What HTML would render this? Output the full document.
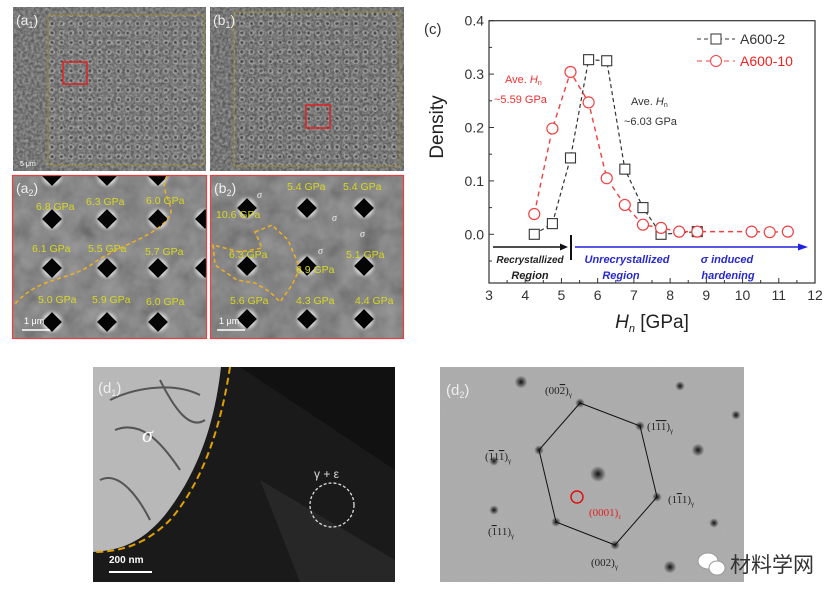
<!DOCTYPE html>
<html><head><meta charset="utf-8"><style>
html,body{margin:0;padding:0;background:#fff;}
body{width:831px;height:598px;overflow:hidden;position:relative;font-family:"Liberation Sans",sans-serif;}
svg{position:absolute;left:0;top:0;}
</style></head><body>
<svg width="831" height="598" viewBox="0 0 831 598">
<defs>
<filter id="nz" x="0" y="0" width="100%" height="100%"><feTurbulence type="fractalNoise" baseFrequency="0.35" numOctaves="2" seed="3"/><feColorMatrix type="matrix" values="0 0 0 0 0.45 0 0 0 0 0.45 0 0 0 0 0.45 0 0 0 1.2 -0.3"/></filter>
<filter id="nz2" x="0" y="0" width="100%" height="100%"><feTurbulence type="fractalNoise" baseFrequency="0.05" numOctaves="3" seed="7"/><feColorMatrix type="matrix" values="0.3 0.3 0.3 0 -0.1 0.3 0.3 0.3 0 -0.1 0.3 0.3 0.3 0 -0.1 0 0 0 0 0.5"/></filter>
<pattern id="dots" width="9.5" height="9.5" patternUnits="userSpaceOnUse"><circle cx="4.5" cy="4.5" r="2.4" fill="none" stroke="#ccc" stroke-width="0.8"/><circle cx="4.5" cy="4.5" r="1" fill="#222"/></pattern>
<radialGradient id="halo"><stop offset="0.4" stop-color="#fff"/><stop offset="0.65" stop-color="#ccc" stop-opacity="0.7"/><stop offset="1" stop-color="#777" stop-opacity="0"/></radialGradient>
<radialGradient id="spot"><stop offset="0" stop-color="#111"/><stop offset="1" stop-color="#111" stop-opacity="0"/></radialGradient>
<clipPath id="ca2"><rect x="12" y="175" width="195" height="164"/></clipPath>
<clipPath id="cb2"><rect x="210" y="175" width="194" height="164"/></clipPath>
</defs>

<g>
<rect x="13" y="7" width="193" height="164" fill="#5e5e5e"/>
<rect x="13" y="7" width="193" height="164" filter="url(#nz)"/>
<rect x="48" y="15" width="156" height="150" fill="url(#dots)" opacity="0.55"/>
<rect x="48" y="15" width="156" height="150" fill="none" stroke="#a08a30" stroke-width="0.8"/>
<rect x="63" y="62" width="24" height="22" fill="none" stroke="#e02020" stroke-width="1.5"/>
<text x="16" y="25" font-size="14" fill="#eee">(a<tspan font-size="9" dy="3">1</tspan><tspan dy="-3">)</tspan></text>
<text x="20" y="166" font-size="7" fill="#fff">5 μm</text>
</g>
<g>
<rect x="210" y="7" width="194" height="164" fill="#5a5a5a"/>
<rect x="210" y="7" width="194" height="164" filter="url(#nz)"/>
<rect x="234" y="12" width="166" height="154" fill="url(#dots)" opacity="0.55"/>
<rect x="234" y="12" width="166" height="154" fill="none" stroke="#a08a30" stroke-width="0.8"/>
<rect x="306" y="105" width="24" height="23" fill="none" stroke="#e02020" stroke-width="1.5"/>
<text x="213" y="25" font-size="14" fill="#eee">(b<tspan font-size="9" dy="3">1</tspan><tspan dy="-3">)</tspan></text>
</g>
<g clip-path="url(#ca2)">
<rect x="12" y="175" width="195" height="164" fill="#707070"/>
<rect x="12" y="175" width="195" height="164" filter="url(#nz2)"/>
<g id="a2ind"></g>
<path d="M167,176 C158,190 175,205 170,215 C160,235 120,245 95,262 C70,282 40,275 14,305" fill="none" stroke="#f0b020" stroke-width="1.5" stroke-dasharray="4,3"/>
<g font-size="10.5" fill="#d8d820">
<text x="36" y="210">6.8 GPa</text><text x="86" y="205">6.3 GPa</text><text x="146" y="204">6.0 GPa</text>
<text x="32" y="252">6.1 GPa</text><text x="88" y="252">5.5 GPa</text><text x="145" y="255">5.7 GPa</text>
<text x="38" y="303">5.0 GPa</text><text x="92" y="303">5.9 GPa</text><text x="146" y="305">6.0 GPa</text>
</g>
<text x="16" y="193" font-size="14" fill="#eee">(a<tspan font-size="9" dy="3">2</tspan><tspan dy="-3">)</tspan></text>
<text x="24" y="324" font-size="9" fill="#fff">1 μm</text><line x1="22" y1="330" x2="50" y2="330" stroke="#fff" stroke-width="1.5"/>
</g>
<rect x="12.5" y="175.5" width="194" height="163" fill="none" stroke="#e84040" stroke-width="1.2"/>
<g clip-path="url(#cb2)">
<rect x="210" y="175" width="194" height="164" fill="#686868"/>
<rect x="210" y="175" width="194" height="164" filter="url(#nz2)"/>
<g id="b2ind"></g>
<path d="M255,232 L272,225 L288,240 L300,268 L292,285 L280,302 L270,292 L255,283 L237,280 L215,265 L213,245 L240,252 L262,248 Z" fill="none" stroke="#f0b020" stroke-width="1.5" stroke-dasharray="4,3"/>
<g font-size="10.5" fill="#d8d820">
<text x="287" y="190">5.4 GPa</text><text x="343" y="190">5.4 GPa</text><text x="216" y="218">10.6 GPa</text>
<text x="229" y="258">6.3 GPa</text><text x="296" y="273">6.9 GPa</text><text x="346" y="258">5.1 GPa</text>
<text x="230" y="304">5.6 GPa</text><text x="296" y="304">4.3 GPa</text><text x="355" y="304">4.4 GPa</text>
</g>
<g font-size="10" fill="#eee" font-style="italic" font-family="Liberation Serif,serif"><text x="257" y="198">σ</text><text x="332" y="221">σ</text><text x="360" y="237">σ</text><text x="318" y="254">σ</text></g>
<text x="214" y="193" font-size="14" fill="#eee">(b<tspan font-size="9" dy="3">2</tspan><tspan dy="-3">)</tspan></text>
<text x="219" y="324" font-size="9" fill="#fff">1 μm</text><line x1="217" y1="330" x2="245" y2="330" stroke="#fff" stroke-width="1.5"/>
</g>
<rect x="210.5" y="175.5" width="193" height="163" fill="none" stroke="#e84040" stroke-width="1.2"/>

<g id="chart"></g>

<g>
<rect x="93" y="367" width="302" height="215" fill="#1a1a1a"/>
<path d="M240,367 L395,367 L395,470 Z" fill="#111"/>
<path d="M260,480 L395,560 L395,582 L300,582 Z" fill="#2a2a2a" opacity="0.8"/>
<path d="M93,367 L221,367 C215,420 200,470 165,515 C140,545 118,550 93,552 Z" fill="#b8b8b8"/>
<path d="M110,400 C130,390 170,380 200,395 M115,430 C140,420 160,440 180,470 M100,480 C120,470 140,500 150,520 M160,380 C175,410 190,430 205,420" stroke="#555" stroke-width="2" fill="none"/>
<path d="M230,367 C222,420 205,480 170,520 C145,545 120,552 93,552" fill="none" stroke="#e0a000" stroke-width="2" stroke-dasharray="7,4"/>
<circle cx="332" cy="505" r="22" fill="none" stroke="#ddd" stroke-width="1.3" stroke-dasharray="3,2"/>
<text x="314" y="478" font-size="12" fill="#ddd">γ + ε</text>
<text x="142" y="442" font-size="22" font-style="italic" fill="#fff" font-family="Liberation Serif,serif">σ</text>
<text x="98" y="393" font-size="15" fill="#eee">(d<tspan font-size="9" dy="3">1</tspan><tspan dy="-3">)</tspan></text>
<text x="109" y="563" font-size="10" font-weight="bold" fill="#fff">200 nm</text>
<line x1="109" y1="572" x2="152" y2="572" stroke="#fff" stroke-width="2"/>
</g>
<g>
<rect x="440" y="367" width="304" height="215" fill="#acacac"/>
<rect x="440" y="367" width="304" height="215" filter="url(#nz)" opacity="0.3"/>
<g id="spots"></g>
<polygon points="580,403 640,426 657,497 615,545 556,522 539,450" fill="none" stroke="#111" stroke-width="1"/>
<circle cx="577" cy="497" r="6" fill="none" stroke="#e01010" stroke-width="1.5"/>
<g font-family="Liberation Serif,serif" font-size="11" fill="#222">
<text x="545" y="394">(00<tspan text-decoration="overline">2</tspan>)<tspan font-size="7" dy="3">γ</tspan></text>
<text x="647" y="430">(1<tspan text-decoration="overline">1</tspan><tspan text-decoration="overline">1</tspan>)<tspan font-size="7" dy="3">γ</tspan></text>
<text x="485" y="460">(<tspan text-decoration="overline">1</tspan>1<tspan text-decoration="overline">1</tspan>)<tspan font-size="7" dy="3">γ</tspan></text>
<text x="668" y="503">(1<tspan text-decoration="overline">1</tspan>1)<tspan font-size="7" dy="3">γ</tspan></text>
<text x="488" y="535">(<tspan text-decoration="overline">1</tspan>11)<tspan font-size="7" dy="3">γ</tspan></text>
<text x="591" y="566">(002)<tspan font-size="7" dy="3">γ</tspan></text>
<text x="589" y="516" fill="#e02020">(0001)<tspan font-size="7" dy="3">ε</tspan></text>
</g>
<text x="446" y="395" font-size="15" fill="#eee">(d<tspan font-size="9" dy="3">2</tspan><tspan dy="-3">)</tspan></text>
</g>
<g>
<ellipse cx="708" cy="561" rx="10" ry="8" fill="#fff" stroke="#999"/><ellipse cx="717" cy="568" rx="8" ry="7" fill="#fff" stroke="#999"/>
<text x="730" y="572" font-size="21" fill="#333" font-family="'Liberation Sans','Noto Sans CJK SC',sans-serif">材料学网</text>
</g>
</svg>
<script>
const NS='http://www.w3.org/2000/svg';
function mk(p,t,a){const e=document.createElementNS(NS,t);for(const k in a)e.setAttribute(k,a[k]);p.appendChild(e);return e;}
const a2g=document.getElementById('a2ind');
[[52,176],[107,176],[158,176],[52,219],[107,219],[158,219],[52,268],[107,268],[158,268],[52,322],[107,322],[158,322],[205,219],[205,268]].forEach(p=>{
 mk(a2g,'circle',{cx:p[0],cy:p[1],r:14,fill:'url(#halo)'});
 mk(a2g,'rect',{x:p[0]-7,y:p[1]-7,width:14,height:14,fill:'#050505',transform:`rotate(45 ${p[0]} ${p[1]})`});
});
const b2g=document.getElementById('b2ind');
[[247,208],[307,208],[364,208],[247,266],[307,266],[364,266],[247,319],[307,319],[364,319]].forEach(p=>{
 mk(b2g,'circle',{cx:p[0],cy:p[1],r:14,fill:'url(#halo)'});
 mk(b2g,'rect',{x:p[0]-7,y:p[1]-7,width:14,height:14,fill:'#050505',transform:`rotate(45 ${p[0]} ${p[1]})`});
});
const sg=document.getElementById('spots');
[[580,403,3],[640,426,3],[657,497,3],[615,545,3],[556,522,3],[539,450,3],[598,474,5],[521,382,4],[680,386,3],[494,461,3],[698,450,4],[494,510,3],[714,523,3],[670,567,4],[736,415,3]].forEach(s=>{
 mk(sg,'circle',{cx:s[0],cy:s[1],r:s[2]*1.6,fill:'url(#spot)'});
});

const xTicks=[3,4,5,6,7,8,9,10,11,12];
const yTicks=[0.0,0.1,0.2,0.3,0.4];
const hA2=[4.25,4.75,5.25,5.75,6.25,6.75,7.25,7.75,8.75];
const dA2=[0.0,0.02,0.143,0.327,0.325,0.122,0.05,0.0,0.005];
const hA10=[4.25,4.75,5.25,5.75,6.25,6.75,7.25,7.75,8.25,8.75,10.25,10.75,11.25];
const dA10=[0.038,0.198,0.304,0.247,0.105,0.055,0.018,0.012,0.005,0.005,0.005,0.004,0.005];

const L=489,R=815,T=20.7,B=283;
const X=v=>L+(v-3)/9*(R-L);
const Y=v=>234.3-(v/0.4)*(234.3-T);
const g=document.getElementById('chart');
let e;
e=mk(g,'rect',{x:L,y:T,width:R-L,height:B-T,fill:'none',stroke:'#333','stroke-width':1.2});

xTicks.forEach((t,i)=>{
 mk(g,'line',{x1:X(t),x2:X(t),y1:B,y2:B-5,stroke:'#333'});
 if(i<xTicks.length-1)mk(g,'line',{x1:X(t+0.5),x2:X(t+0.5),y1:B,y2:B-3,stroke:'#333'});
 e=mk(g,'text',{x:X(t),y:B+17,'font-size':14,'text-anchor':'middle',fill:'#333'});e.textContent=t;
 
});
yTicks.forEach((t,i)=>{
 mk(g,'line',{x1:L,x2:L+5,y1:Y(t),y2:Y(t),stroke:'#333'});
 mk(g,'line',{x1:L,x2:L+3,y1:Y(t-0.05),y2:Y(t-0.05),stroke:'#333'});
 e=mk(g,'text',{x:L-5,y:Y(t)+5,'font-size':14,'text-anchor':'end',fill:'#333'});e.textContent=t.toFixed(1);
 
});
e=mk(g,'text',{x:0,y:0,'font-size':19,'text-anchor':'middle',fill:'#222',transform:`translate(443,127) rotate(-90)`});e.textContent='Density';

e=mk(g,'text',{x:652,y:328,'font-size':19,'text-anchor':'middle',fill:'#222'});
e.innerHTML='<tspan font-style="italic">H</tspan><tspan font-style="italic" font-size="11" dy="4">n</tspan><tspan dy="-4"> [GPa]</tspan>';

e=mk(g,'text',{x:424,y:34,'font-size':15,fill:'#333'});e.textContent='(c)';


e=mk(g,'polyline',{points:hA2.map((h,i)=>X(h)+','+Y(dA2[i])).join(' '),fill:'none',stroke:'#333','stroke-width':1.2,'stroke-dasharray':'4,3'});

e=mk(g,'polyline',{points:hA10.map((h,i)=>X(h)+','+Y(dA10[i])).join(' '),fill:'none',stroke:'#f04040','stroke-width':1.4,'stroke-dasharray':'5,4'});

hA2.forEach((h,i)=>{
 e=mk(g,'rect',{x:X(h)-5,y:Y(dA2[i])-5,width:10,height:10,fill:'#fff',stroke:'#333','stroke-width':1.1});
 
});
hA10.forEach((h,i)=>{
 e=mk(g,'circle',{cx:X(h),cy:Y(dA10[i]),r:5.5,fill:'#fff',stroke:'#f04040','stroke-width':1.2});
 
});
mk(g,'line',{x1:697,x2:735,y1:39,y2:39,stroke:'#333','stroke-dasharray':'4,3'});
mk(g,'rect',{x:711,y:34,width:10,height:10,fill:'#fff',stroke:'#333'});
e=mk(g,'text',{x:740,y:44,'font-size':14,fill:'#333'});e.textContent='A600-2';

mk(g,'line',{x1:697,x2:735,y1:61,y2:61,stroke:'#f04040','stroke-dasharray':'5,4'});
mk(g,'circle',{cx:716,cy:61,r:5.5,fill:'#fff',stroke:'#f04040'});
e=mk(g,'text',{x:740,y:66,'font-size':14,fill:'#f02020'});e.textContent='A600-10';

e=mk(g,'text',{x:505,y:83,'font-size':11,fill:'#f03030'});e.innerHTML='Ave. <tspan font-style="italic">H</tspan><tspan font-size="7" dy="2">n</tspan>';
e=mk(g,'text',{x:494,y:103,'font-size':11,fill:'#f03030'});e.textContent='~5.59 GPa';
e=mk(g,'text',{x:631,y:105,'font-size':11,fill:'#333'});e.innerHTML='Ave. <tspan font-style="italic">H</tspan><tspan font-size="7" dy="2">n</tspan>';
e=mk(g,'text',{x:624,y:125,'font-size':11,fill:'#333'});e.textContent='~6.03 GPa';
mk(g,'line',{x1:493,x2:562,y1:247,y2:247,stroke:'#111','stroke-width':1.5});
mk(g,'polygon',{points:'568,247 560,243.5 560,250.5',fill:'#111'});
mk(g,'line',{x1:571,x2:571,y1:235,y2:260,stroke:'#111','stroke-width':2});
mk(g,'line',{x1:575,x2:800,y1:247,y2:247,stroke:'#2020e0','stroke-width':1.5});
mk(g,'polygon',{points:'808,247 798,243.5 798,250.5',fill:'#2020e0'});
const ann=[[530,263,'#222','Recrystallized'],[530,279,'#222','Region'],[627,263,'#2828d0','Unrecrystallized'],[621,279,'#2828d0','Region'],[727,263,'#2828d0','σ  induced'],[728,279,'#2828d0','hardening']];
ann.forEach(a=>{e=mk(g,'text',{x:a[0],y:a[1],'font-size':a[3]==='Recrystallized'?10:11,'font-weight':'bold','font-style':'italic','text-anchor':'middle',fill:a[2]});e.textContent=a[3];
});
</script>
</body></html>
